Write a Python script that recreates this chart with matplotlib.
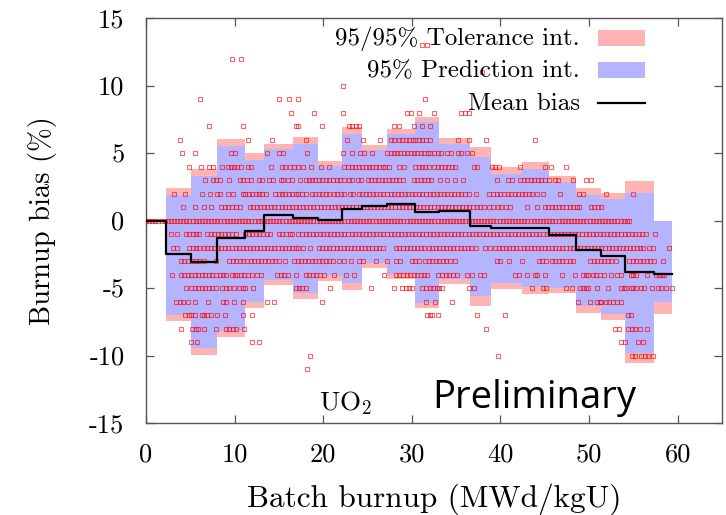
import matplotlib
matplotlib.use("Agg")
import matplotlib.pyplot as plt
from matplotlib.patches import Rectangle
from matplotlib.lines import Line2D

plt.rcParams['font.family'] = ['cmr10', 'DejaVu Serif']
plt.rcParams['mathtext.fontset'] = 'cm'
plt.rcParams['axes.unicode_minus'] = False
plt.rcParams['axes.formatter.use_mathtext'] = True

# bin edges (MWd/kgU) and per-bin statistics (%)
edges = [2.25, 5.05, 8.0, 11.2, 13.3, 16.6, 19.4, 22.1, 24.4, 27.2, 30.4,
         33.1, 36.6, 38.9, 42.4, 45.5, 48.5, 51.3, 54.1, 57.3, 59.4]
tol_hi = [2.42, 3.83, 6.02, 4.99, 5.65, 6.20, 4.44, 6.96, 5.60, 6.81, 7.70,
          6.12, 5.48, 3.93, 4.30, 3.28, 2.42, 2.07, 2.91, 0.0]
tol_lo = [-7.44, -9.96, -8.65, -6.5, -4.78, -5.81, -4.48, -5.15, -3.54, -4.36, -6.46,
          -4.70, -6.33, -5.10, -5.42, -5.40, -6.83, -7.37, -10.53, -6.93]
pred_hi = [1.88, 3.31, 5.53, 4.47, 5.28, 5.70, 4.05, 6.40, 5.23, 6.44, 7.31,
           5.70, 4.72, 3.48, 3.78, 2.86, 1.88, 1.58, 2.07, 0.0]
pred_lo = [-7.0, -9.47, -8.16, -6.01, -4.41, -5.35, -4.11, -4.65, -3.17, -3.96, -6.09,
           -4.33, -5.59, -4.65, -4.95, -5.02, -6.33, -6.93, -9.79, -6.01]
mean_bias = [-2.5, -3.05, -1.27, -0.75, 0.44, 0.15, 0.02, 0.89, 1.06, 1.26, 0.62,
             0.69, -0.41, -0.55, -0.55, -1.08, -2.2, -2.64, -3.81, -3.99]

# measured points: burnup values for each integer bias level
x_p13 = [31.2, 31.7]
x_p12 = [9.7, 10.7]
x_p11 = [37.9]
x_p10 = [22.2]
x_p9 = [6.1, 15.0, 16.1, 17.15, 31.5]
x_p8 = [16.4, 19.0, 22.25, 29.5, 29.85, 30.8, 32.5, 35.6, 36.0, 36.4]
x_p7 = [7.1, 10.9, 16.9, 17.2, 19.9, 22.9, 23.3, 23.7, 24.0, 28.0, 28.5, 30.2, 31.2, 32.1]
x_p6 = [3.8, 11.5, 14.2, 18.1, 22.7, 24.5, 26.4, 27.6, 28.0, 28.5, 28.9, 29.3, 29.7,
        30.1, 30.4, 30.8, 31.2, 31.6, 32.1, 35.2, 36.5, 38.4, 43.85]
x_p5 = [4.1, 5.5, 9.55, 10.0, 13.7, 15.0, 15.5, 18.2, 22.25, 23.3, 24.2, 24.6, 25.5,
        27.2, 27.6, 28.0, 28.3, 28.7, 29.1, 29.5, 29.9, 30.2, 30.6, 31.0, 31.4, 31.8,
        32.1, 32.5, 32.9, 33.3, 34.0, 34.4, 35.2, 35.6, 36.2, 36.8]
x_p4 = [4.8, 6.2, 7.1, 7.6, 8.6, 9.2, 9.55, 9.9, 10.3, 10.7, 11.5, 11.9, 14.1, 15.4,
        15.7, 16.2, 16.7, 17.2, 17.7, 18.6, 19.7, 20.7, 22.4, 22.8, 23.2, 23.6, 24.0,
        24.4, 24.8, 25.2, 25.5, 25.9, 26.3, 26.7, 27.0, 27.4, 28.5, 29.1, 30.4, 30.8,
        31.1, 31.5, 31.9, 32.5, 32.9, 33.3, 33.7, 34.1, 34.5, 34.9, 37.0, 37.3, 39.0,
        39.4, 39.8, 42.2, 45.0, 45.75, 47.4]
x_p3 = [6.7, 7.6, 7.9, 8.4, 9.4, 10.6, 11.0, 11.4, 11.8, 12.7, 13.1, 13.9, 14.3, 15.2,
        15.5, 16.0, 16.5, 17.4, 18.0, 18.4, 18.7, 19.1, 19.5, 19.9, 20.3, 20.7, 21.1,
        21.5, 21.9, 22.3, 22.9, 23.3, 23.9, 24.3, 25.0, 25.4, 25.8, 26.2, 26.6, 27.0,
        27.4, 27.8, 28.2, 28.6, 29.0, 30.2, 30.6, 31.0, 31.4, 31.8, 32.2, 33.2, 34.0,
        34.9, 35.8, 39.6, 40.9, 41.3, 42.2, 42.6, 43.0, 43.4, 43.8, 44.2, 44.6, 45.0,
        45.5, 46.1, 46.5, 48.2, 49.7, 50.25]
x_p2 = [3.2, 4.4, 6.3, 7.2, 8.0, 8.4, 9.2, 9.8, 10.9, 11.2, 11.6, 12.0, 12.4, 12.7,
        13.1, 13.5, 14.6, 15.0, 15.4, 15.7, 16.1, 16.5, 16.9, 17.2, 17.6, 18.0, 18.7,
        19.1, 19.5, 19.9, 20.3, 20.7, 21.2, 21.6, 22.0, 22.4, 23.0, 23.4, 24.0, 24.4,
        24.8, 25.2, 25.6, 26.0, 26.4, 26.8, 27.2, 27.6, 28.0, 28.4, 28.8, 29.2, 29.6,
        30.0, 30.4, 30.8, 31.2, 31.6, 32.0, 32.4, 32.8, 33.2, 33.6, 34.0, 34.4, 34.8,
        35.2, 35.6, 36.0, 36.4, 37.2, 38.7, 39.2, 39.6, 40.0, 40.4, 40.8, 41.2, 41.6,
        42.0, 42.4, 42.8, 43.2, 43.6, 44.1, 44.8, 46.7, 48.9, 49.3, 51.9, 54.9]
x_p1 = [4.2, 5.5, 6.5, 7.3, 8.5, 8.9, 9.3, 9.7, 10.1, 10.6, 11.7, 12.1, 12.5, 12.9,
        13.3, 13.7, 14.1, 14.5, 14.9, 15.3, 15.7, 16.1, 16.5, 16.9, 17.3, 17.7, 18.1,
        18.5, 18.9, 19.3, 19.7, 20.1, 20.5, 20.9, 21.3, 21.7, 22.1, 22.5, 22.9, 23.3,
        23.7, 24.1, 24.5, 24.9, 25.3, 25.7, 26.1, 26.5, 26.9, 27.3, 27.7, 28.1, 28.5,
        28.9, 29.3, 29.7, 30.1, 30.5, 30.9, 31.3, 31.7, 32.1, 32.5, 32.9, 33.3, 33.7,
        34.1, 34.5, 34.9, 35.3, 35.7, 36.1, 36.5, 36.9, 37.3, 37.7, 38.1, 38.7, 39.2,
        39.7, 40.1, 40.6, 41.1, 43.0, 44.1, 45.0, 45.4, 45.8, 46.2, 46.6, 47.0, 47.4,
        47.8, 48.2, 48.6, 48.9, 50.25, 50.6, 51.0, 51.4]
x_0 = [0.0, 0.35, 0.7, 1.05, 1.4, 1.75, 2.1, 2.45, 2.8, 3.15, 3.5, 3.85, 4.2, 4.55,
       4.9, 5.25, 5.6, 5.95, 6.3, 6.65, 7.0, 7.35, 7.7, 8.05, 8.4, 8.75, 9.1, 9.45,
       9.8, 10.15, 10.5, 10.85, 11.2, 11.55, 11.9, 12.25, 12.6, 12.95, 13.3, 13.65,
       14.0, 14.35, 14.7, 15.05, 15.4, 15.75, 16.1, 16.45, 16.8, 17.15, 17.5, 17.85,
       18.2, 18.55, 18.9, 19.25, 19.6, 19.95, 20.3, 20.65, 21.0, 21.35, 21.7, 22.05,
       22.4, 22.75, 23.1, 23.45, 23.8, 24.15, 24.5, 24.85, 25.2, 25.55, 25.9, 26.25,
       26.6, 26.95, 27.3, 27.65, 28.0, 28.35, 28.7, 29.05, 29.4, 29.75, 30.1, 30.45,
       30.8, 31.15, 31.5, 31.85, 32.2, 32.55, 32.9, 33.25, 33.6, 33.95, 34.3, 34.65,
       35.0, 35.35, 35.7, 36.05, 36.4, 36.75, 37.1, 37.45, 37.8, 38.15, 38.5, 38.85,
       39.2, 39.55, 39.9, 40.25, 40.6, 40.95, 41.3, 41.65, 42.0, 42.35, 42.7, 43.05,
       43.4, 43.75, 44.1, 44.45, 44.8, 45.15, 45.5, 45.85, 46.2, 46.55, 46.9, 47.25,
       47.6, 47.95, 48.3, 48.65, 49.0, 49.35, 49.7, 50.05, 50.4, 50.75, 51.1, 51.45,
       51.8, 52.15, 52.5, 52.85, 53.2, 53.55, 53.9, 54.25, 54.55]
x_m1 = [2.8, 3.45, 4.5, 4.9, 5.3, 5.6, 6.0, 6.9, 7.3, 7.7, 8.1, 8.5, 8.9, 9.3, 9.7,
        10.1, 11.2, 11.6, 12.0, 12.4, 12.8, 13.2, 13.6, 14.0, 15.0, 15.4, 15.8, 16.2,
        16.5, 17.2, 17.6, 18.0, 18.4, 18.8, 19.2, 19.6, 20.0, 20.4, 20.8, 21.2, 21.6,
        22.0, 22.4, 22.8, 23.2, 23.6, 24.0, 24.4, 24.8, 25.2, 25.6, 26.0, 26.4, 26.8,
        27.2, 27.6, 28.0, 28.4, 28.8, 29.2, 29.6, 30.0, 30.4, 30.8, 31.2, 31.6, 32.0,
        32.4, 32.8, 33.2, 33.6, 34.0, 34.4, 34.8, 35.2, 35.6, 36.0, 36.4, 36.8, 37.2,
        37.6, 38.0, 38.4, 38.8, 39.2, 39.6, 40.0, 40.4, 40.8, 41.2, 41.6, 42.0, 42.4,
        42.8, 43.2, 43.6, 44.0, 44.4, 44.8, 45.2, 45.6, 46.0, 46.4, 46.8, 47.2, 47.6,
        48.0, 48.4, 48.8, 49.2, 49.6, 50.0, 50.4, 50.8, 51.2, 51.6, 52.0, 52.4, 52.8,
        53.2, 53.6, 54.0, 54.4, 54.8, 55.2, 55.6, 56.0, 56.4, 57.4]
x_m2 = [3.1, 3.45, 4.9, 5.3, 5.6, 6.0, 6.55, 6.9, 7.3, 7.7, 8.1, 8.5, 8.9, 9.2, 9.7,
        10.1, 10.5, 10.9, 11.3, 11.7, 12.1, 12.5, 12.9, 13.3, 13.7, 14.1, 14.5, 14.9,
        15.3, 15.7, 16.1, 16.5, 16.9, 17.2, 17.7, 18.5, 19.5, 19.9, 20.3, 20.7, 21.1,
        21.5, 21.9, 22.3, 22.7, 23.1, 23.5, 23.9, 24.3, 24.7, 25.1, 25.5, 25.9, 26.3,
        26.7, 28.2, 28.6, 29.0, 29.4, 29.8, 30.2, 30.6, 31.0, 31.4, 31.9, 32.3, 32.7,
        33.1, 33.5, 33.9, 34.3, 34.7, 35.1, 35.5, 35.9, 36.3, 36.7, 37.2, 38.3, 38.8,
        39.4, 39.8, 40.2, 40.6, 41.0, 41.4, 41.8, 42.2, 42.6, 43.0, 43.4, 43.8, 44.2,
        44.6, 45.0, 45.4, 45.8, 46.2, 46.6, 47.0, 47.4, 47.8, 48.2, 48.6, 49.0, 49.4,
        49.8, 50.2, 50.6, 51.0, 51.4, 51.8, 52.2, 52.6, 53.0, 53.4, 53.8, 54.2, 54.6,
        55.0, 55.4, 55.8, 56.05, 56.8, 57.2, 59.05]
x_m3 = [3.9, 4.3, 4.7, 5.2, 5.6, 6.0, 6.55, 7.9, 9.4, 9.8, 10.2, 10.6, 10.9, 11.4,
        11.8, 12.2, 12.6, 13.0, 13.4, 13.8, 14.2, 14.6, 15.0, 15.7, 16.7, 17.1, 17.5,
        17.9, 18.3, 18.7, 19.1, 19.5, 19.9, 20.3, 20.7, 21.1, 21.8, 22.4, 23.1, 24.0,
        24.5, 25.9, 27.2, 28.2, 28.7, 30.0, 30.4, 30.8, 31.5, 31.9, 32.3, 32.7, 33.1,
        33.5, 33.9, 34.3, 34.9, 39.6, 39.95, 41.0, 42.4, 44.3, 44.7, 45.1, 45.8, 46.2,
        46.6, 47.0, 47.4, 47.8, 48.2, 50.1, 50.5, 50.9, 51.3, 51.7, 52.1, 52.5, 53.0,
        54.55, 54.9, 55.3, 55.7, 56.1, 56.5, 56.9, 57.3, 58.3]
x_m4 = [2.9, 3.9, 4.3, 4.7, 5.1, 5.5, 5.9, 6.3, 6.7, 7.1, 7.5, 7.9, 8.3, 8.7, 9.0,
        9.7, 10.0, 10.3, 10.7, 11.1, 11.5, 12.0, 12.5, 13.0, 14.8, 15.2, 15.6, 16.0,
        16.9, 18.0, 18.4, 18.8, 19.2, 19.6, 20.1, 21.2, 22.6, 23.5, 26.85, 28.2, 28.6,
        29.0, 29.4, 29.8, 30.2, 30.6, 31.0, 31.4, 31.7, 33.0, 33.4, 33.8, 34.2, 34.6,
        35.1, 36.2, 36.8, 37.7, 38.1, 41.6, 42.1, 42.95, 43.9, 44.1, 45.0, 46.9, 48.4,
        49.3, 49.6, 49.9, 50.4, 50.8, 51.2, 51.7, 52.5, 53.1, 53.6, 54.7, 55.0, 55.3,
        56.5, 57.55, 57.9, 58.2, 58.5]
x_m5 = [4.5, 5.1, 5.5, 5.9, 6.3, 6.7, 7.1, 7.5, 7.9, 8.6, 9.0, 9.4, 9.9, 10.5, 10.9,
        11.2, 12.1, 16.9, 17.3, 17.6, 18.0, 20.8, 25.4, 28.0, 28.9, 29.3, 29.7, 30.0,
        31.2, 31.6, 32.0, 32.4, 32.8, 33.1, 33.4, 36.4, 37.0, 43.6, 44.8, 45.1, 47.4,
        48.1, 49.0, 49.3, 49.6, 49.9, 50.9, 52.1, 53.6, 53.9, 54.2, 54.75, 55.0, 55.3,
        55.9, 56.2, 57.1, 57.75, 58.1, 58.7, 59.4]
x_m6 = [3.4, 3.8, 4.2, 4.7, 5.5, 7.0, 8.7, 9.0, 9.9, 11.0, 13.7, 14.4, 19.85, 31.6,
        32.6, 34.5, 48.7, 50.1, 50.9, 51.2, 51.4, 51.9, 52.3, 52.7, 53.1, 53.6]
x_m7 = [4.4, 4.8, 5.1, 5.5, 6.3, 6.6, 6.9, 7.3, 8.05, 8.9, 10.9, 12.0, 31.7, 32.0,
        32.3, 33.0, 37.4, 40.5, 54.4, 54.7]
x_m8 = [3.9, 5.2, 5.6, 5.9, 6.55, 7.9, 9.0, 9.4, 9.8, 10.2, 11.05, 38.35, 52.9, 53.35,
        54.4, 54.8, 55.2, 55.7, 56.5]
x_m9 = [5.05, 5.7, 12.0, 12.7, 53.6, 54.1, 55.55, 56.05]
x_m10 = [18.5, 39.7, 54.85, 55.2, 55.9, 56.3, 56.7, 57.2]
x_m11 = [18.2]

rows = [(13, x_p13), (12, x_p12), (11, x_p11), (10, x_p10), (9, x_p9), (8, x_p8),
        (7, x_p7), (6, x_p6), (5, x_p5), (4, x_p4), (3, x_p3), (2, x_p2), (1, x_p1),
        (0, x_0), (-1, x_m1), (-2, x_m2), (-3, x_m3), (-4, x_m4), (-5, x_m5),
        (-6, x_m6), (-7, x_m7), (-8, x_m8), (-9, x_m9), (-10, x_m10), (-11, x_m11)]

pink = '#ffb4b4'
blue = '#b4b4ff'

fig = plt.figure(figsize=(7.26, 5.15), dpi=100)
ax = fig.add_axes([0.2011, 0.1786, 0.7934, 0.7864])

ax.fill_between(edges, tol_lo + [tol_lo[-1]], tol_hi + [tol_hi[-1]],
                step='post', color=pink, lw=0, zorder=1)
ax.fill_between(edges, pred_lo + [pred_lo[-1]], pred_hi + [pred_hi[-1]],
                step='post', color=blue, lw=0, zorder=2)

for yv, xs in rows:
    ax.plot(xs, [yv] * len(xs), ls='none', marker='s', ms=3.2, mfc='none',
            mec=(1, 0, 0, 0.6), mew=0.8, zorder=3)

ax.step([0] + edges, [0] + mean_bias + [mean_bias[-1]], where='post',
        color='black', lw=1.6, zorder=4)

ax.set_xlim(0, 65)
ax.set_ylim(-15, 15)
ax.set_xticks([0, 10, 20, 30, 40, 50, 60])
ax.set_xticklabels(['0', '10', '20', '30', '40', '50', '60'])
ax.set_yticks([-15, -10, -5, 0, 5, 10, 15])
ax.set_yticklabels(['-15', '-10', '-5', '0', '5', '10', '15'])
ax.tick_params(direction='in', length=6, width=0.9, color='#555555',
               top=True, right=True, labelsize=19)
ax.tick_params(axis='x', pad=14)
ax.tick_params(axis='y', pad=15.5)
for sp in ax.spines.values():
    sp.set_color('#555555')
    sp.set_linewidth(1.0)

ax.set_xlabel('Batch burnup (MWd/kgU)', fontsize=22.5, labelpad=12)
ax.set_ylabel('Burnup bias (%)', fontsize=20.5, labelpad=23)

# legend, gnuplot style: text right aligned, sample on the right
leg = [('95/95% Tolerance int.', pink), ('95% Prediction int.', blue), ('Mean bias', None)]
base_y = [0.9333, 0.8543, 0.7728]
for (label, col), by in zip(leg, base_y):
    ax.text(0.7535, by, label, transform=ax.transAxes, ha='right', va='baseline',
            fontsize=18, zorder=6)
    if col is not None:
        ax.add_patch(Rectangle((0.785, by - 0.0025), 0.081, 0.039, transform=ax.transAxes,
                               facecolor=col, edgecolor='none', zorder=6))
    else:
        ax.add_line(Line2D([0.785, 0.866], [by + 0.017, by + 0.017], transform=ax.transAxes,
                           color='black', lw=1.6, zorder=6))

ax.text(19.55, -14.03, 'UO$_2$', fontsize=19.5, ha='left', va='baseline', zorder=6)
ax.text(32.25, -13.88, 'Preliminary', fontsize=27.5, family=['Open Sans', 'DejaVu Sans'],
        ha='left', va='baseline', zorder=6)

fig.savefig('out.png', dpi=100)
